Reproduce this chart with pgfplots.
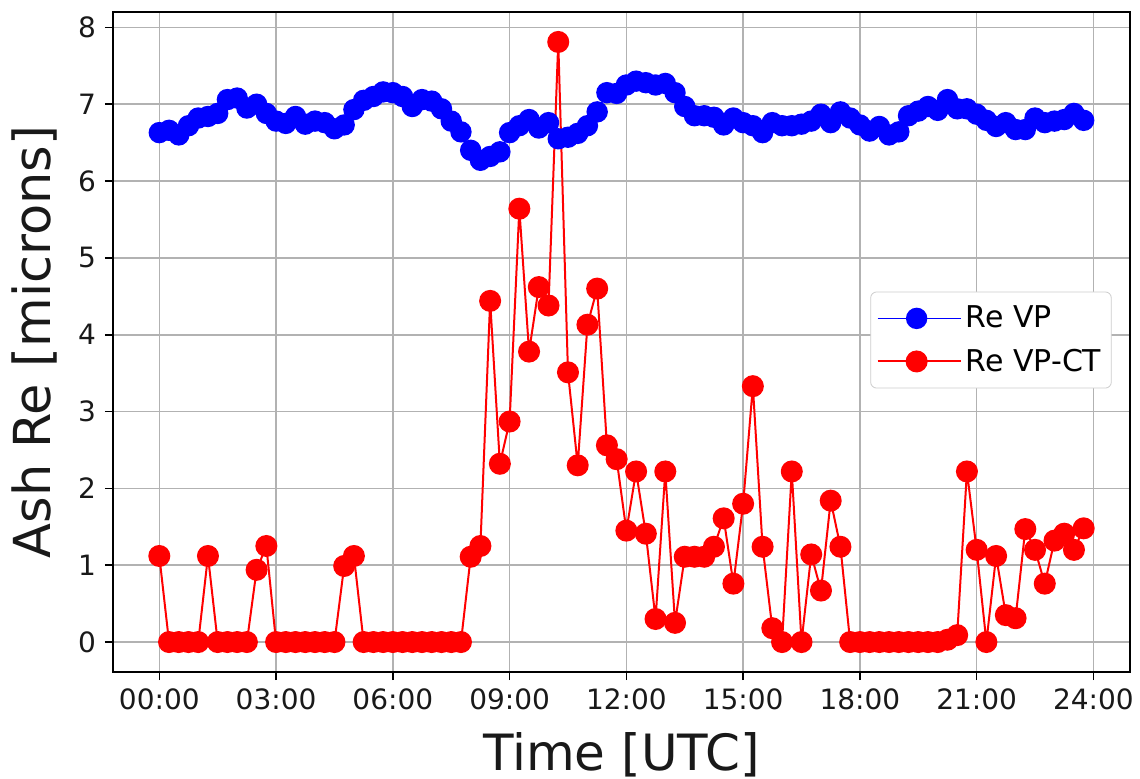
\documentclass[border=0pt]{standalone}
\usepackage{fontspec}
\setmainfont{DejaVu Sans}
\usepackage{pgfplots}
\pgfplotsset{compat=1.18}
\usepackage{pgfplotstable}

\pgfplotstableread{
t vp vpct
0.00 6.63 1.12
0.25 6.66 0
0.50 6.60 0
0.75 6.72 0
1.00 6.82 0
1.25 6.84 1.12
1.50 6.88 0
1.75 7.06 0
2.00 7.08 0
2.25 6.95 0
2.50 7.00 0.94
2.75 6.88 1.25
3.00 6.78 0
3.25 6.75 0
3.50 6.84 0
3.75 6.74 0
4.00 6.78 0
4.25 6.76 0
4.50 6.68 0
4.75 6.73 0.99
5.00 6.93 1.12
5.25 7.05 0
5.50 7.10 0
5.75 7.16 0
6.00 7.15 0
6.25 7.10 0
6.50 6.97 0
6.75 7.06 0
7.00 7.04 0
7.25 6.94 0
7.50 6.78 0
7.75 6.64 0
8.00 6.40 1.11
8.25 6.27 1.25
8.50 6.32 4.44
8.75 6.38 2.32
9.00 6.63 2.87
9.25 6.72 5.64
9.50 6.80 3.78
9.75 6.69 4.62
10.00 6.76 4.38
10.25 6.55 7.81
10.50 6.57 3.51
10.75 6.62 2.30
11.00 6.72 4.13
11.25 6.90 4.60
11.50 7.15 2.56
11.75 7.14 2.38
12.00 7.25 1.45
12.25 7.30 2.22
12.50 7.28 1.41
12.75 7.25 0.30
13.00 7.27 2.22
13.25 7.15 0.25
13.50 6.97 1.11
13.75 6.85 1.11
14.00 6.85 1.11
14.25 6.83 1.24
14.50 6.73 1.61
14.75 6.82 0.76
15.00 6.76 1.80
15.25 6.72 3.33
15.50 6.63 1.24
15.75 6.76 0.18
16.00 6.72 0
16.25 6.72 2.22
16.50 6.74 0
16.75 6.78 1.14
17.00 6.87 0.67
17.25 6.76 1.84
17.50 6.90 1.24
17.75 6.82 0
18.00 6.73 0
18.25 6.65 0
18.50 6.71 0
18.75 6.60 0
19.00 6.64 0
19.25 6.85 0
19.50 6.91 0
19.75 6.97 0
20.00 6.92 0
20.25 7.06 0.03
20.50 6.94 0.09
20.75 6.94 2.22
21.00 6.87 1.20
21.25 6.79 0
21.50 6.71 1.12
21.75 6.76 0.35
22.00 6.67 0.31
22.25 6.67 1.47
22.50 6.82 1.20
22.75 6.76 0.76
23.00 6.78 1.32
23.25 6.80 1.41
23.50 6.88 1.20
23.75 6.79 1.48
}\data

\begin{document}
\begin{tikzpicture}
\begin{axis}[
  width=508.5pt, height=330pt, scale only axis,
  xmin=-1.19, xmax=24.94, ymin=-0.39, ymax=8.2,
  xtick={0,3,...,24},
  xticklabels={00:00,03:00,06:00,09:00,12:00,15:00,18:00,21:00,24:00},
  ytick={0,1,...,8},
  grid=major,
  major grid style={draw=black!30, line width=0.8pt},
  axis line style={line width=1pt, black},
  tick align=outside, tick pos=left,
  major tick length=4pt,
  tick style={line width=0.8pt, black},
  /pgf/number format/assume math mode=true,
  ticklabel style={font=\fontsize{14}{16}\selectfont, text=black!90},
  xticklabel style={yshift=-1pt},
  yticklabel style={xshift=-1pt},
  xlabel={Time [UTC]}, ylabel={Ash Re [microns]},
  label style={text=black!90},
  xlabel style={font=\fontsize{25}{30}\selectfont, at={(axis description cs:0.5,-0.126)}, anchor=center},
  ylabel style={font=\fontsize{25.5}{30}\selectfont, at={(axis description cs:-0.077,0.5)}, anchor=center},
  legend style={at={(0.982,0.503)}, anchor=east, font=\fontsize{15}{18}\selectfont,
    draw=black!20, rounded corners=3pt, fill=white,
    inner xsep=3pt, inner ysep=5pt, row sep=5pt},
  legend cell align=left,
  legend image code/.code={
    \path (-0.12cm,0) -- (1.34cm,0);
    \draw[mark repeat=2,mark phase=2] plot coordinates {(0cm,0cm) (0.565cm,0cm) (1.13cm,0cm)};},
]
\addplot[blue, line width=0.7pt, mark=*, mark size=5pt, mark options={solid, fill=blue, draw=blue}] table[x=t, y=vp] {\data};
\addlegendentry{Re VP}
\addplot[red, line width=1pt, mark=*, mark size=5pt, mark options={solid, fill=red, draw=red}] table[x=t, y=vpct] {\data};
\addlegendentry{Re VP-CT}
\end{axis}
\pgfresetboundingbox
\path[use as bounding box] ([xshift=-56.5pt,yshift=-53pt]current axis.south west) rectangle ([xshift=5pt,yshift=6pt]current axis.north east);
\end{tikzpicture}
\end{document}
